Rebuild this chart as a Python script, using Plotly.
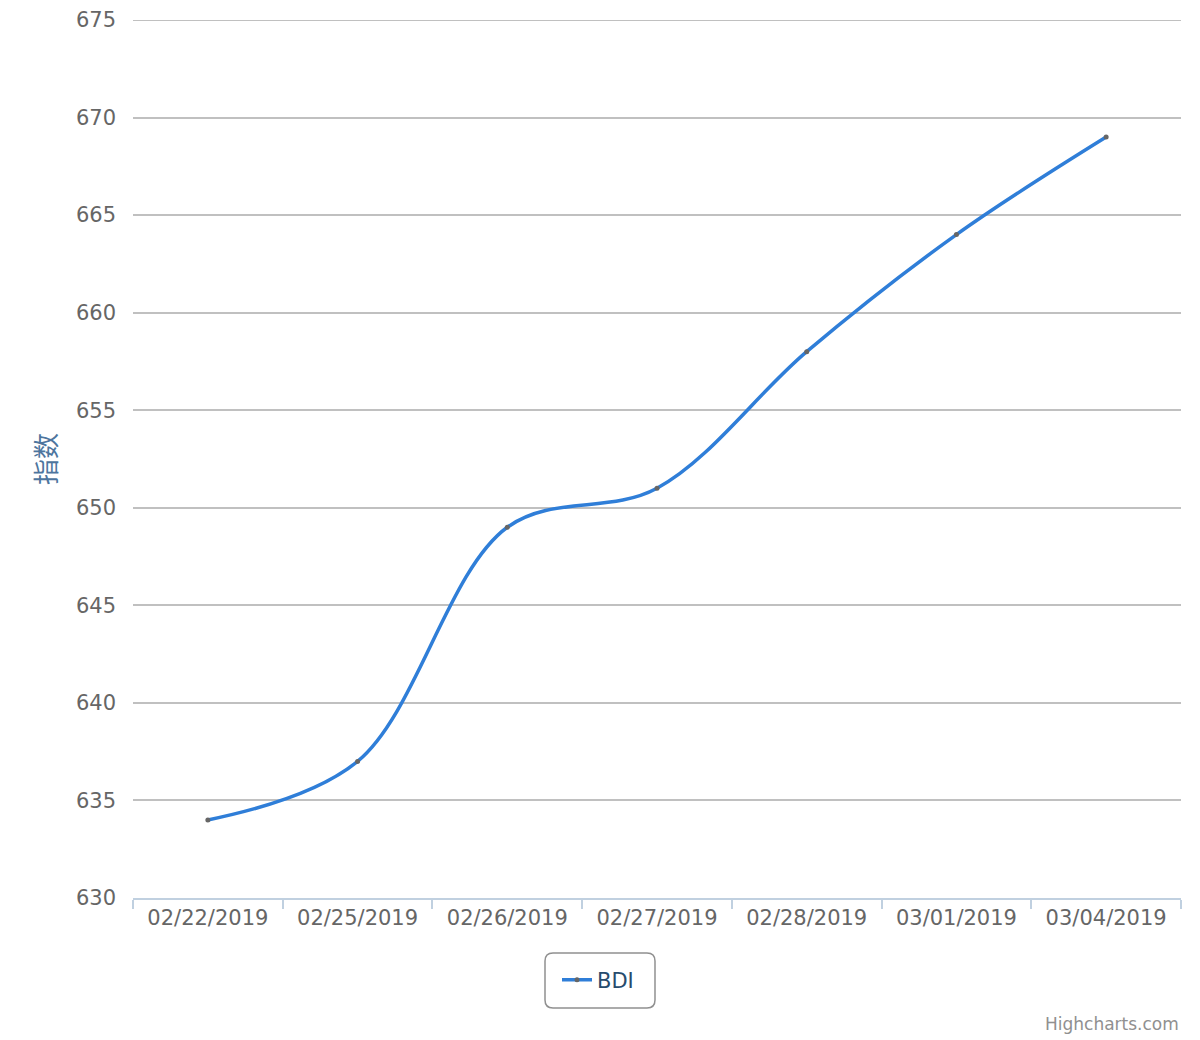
import plotly.graph_objects as go

categories = ["02/22/2019", "02/25/2019", "02/26/2019", "02/27/2019", "02/28/2019", "03/01/2019", "03/04/2019"]
bdi_values = [634, 637, 649, 651, 658, 664, 669]
series_name = "BDI"
y_title = "指数"
y_ticks = [630, 635, 640, 645, 650, 655, 660, 665, 670, 675]

# page has an 8px body margin; figure sized to fit the 1200x1040 viewport
OFF = 8
W, H = 1200 - OFF, 1040 - OFF
L, R, T, B = 133 - OFF, 19, 20 - OFF, 1040 - 898
PW, PH = W - L - R, H - T - B

def px_to_paper(x, y):
    # screen pixel -> paper coordinates
    return (x - OFF - L) / PW, (H - B - (y - OFF)) / PH

FONT = "DejaVu Sans, Verdana, sans-serif"

fig = go.Figure()
fig.add_trace(go.Scatter(
    x=categories, y=bdi_values, name=series_name,
    mode="lines+markers",
    line=dict(color="#2f7ed8", width=3.5, shape="spline", smoothing=1.0),
    marker=dict(size=5, color="#666666", line=dict(width=0)),
))

# top gridline (hidden by plotly at the range edge)
fig.add_shape(type="line", xref="paper", yref="y", x0=0, x1=1, y0=y_ticks[-1], y1=y_ticks[-1],
              line=dict(color="#C0C0C0", width=2), layer="below")

# rounded legend box
x0, y0, x1, y1, r = 545, 953, 655, 1008, 8
def P(x, y):
    a, b = px_to_paper(x, y)
    return f"{a:.5f},{b:.5f}"
path = (f"M {P(x0 + r, y0)} L {P(x1 - r, y0)} Q {P(x1, y0)} {P(x1, y0 + r)} "
        f"L {P(x1, y1 - r)} Q {P(x1, y1)} {P(x1 - r, y1)} L {P(x0 + r, y1)} "
        f"Q {P(x0, y1)} {P(x0, y1 - r)} L {P(x0, y0 + r)} Q {P(x0, y0)} {P(x0 + r, y0)} Z")
fig.add_shape(type="path", path=path, xref="paper", yref="paper",
              line=dict(color="#909090", width=1.5), fillcolor="rgba(0,0,0,0)")

fig.add_annotation(text="Highcharts.com", xref="paper", yref="paper",
                   x=px_to_paper(1181, 0)[0], y=px_to_paper(0, 1024)[1],
                   xanchor="right", yanchor="middle", showarrow=False,
                   font=dict(family=FONT, size=17, color="#909090"))

fig.update_layout(
    width=W, height=H,
    margin=dict(l=L, r=R, t=T, b=B, autoexpand=False),
    paper_bgcolor="white", plot_bgcolor="white",
    font=dict(family=FONT, color="#666666"),
    showlegend=True,
    legend=dict(
        xref="container", yref="container",
        x=(598 - OFF) / W, y=1 - (980 - OFF) / H, xanchor="center", yanchor="middle",
        orientation="h", bgcolor="rgba(0,0,0,0)",
        font=dict(family=FONT, size=21, color="#274b6d"),
        itemwidth=30,
    ),
    xaxis=dict(
        type="category", range=[-0.5, 6.5],
        showgrid=False, zeroline=False,
        showline=True, linecolor="#C0D0E0", linewidth=2,
        ticks="outside", tickson="boundaries", ticklen=9, tickwidth=2, tickcolor="#C0D0E0",
        tickfont=dict(family=FONT, size=21, color="#666666"),
    ),
    yaxis=dict(
        range=[630, 675], tickvals=y_ticks,
        showgrid=True, gridcolor="#C0C0C0", gridwidth=2,
        zeroline=False, showline=False, ticks="",
        ticklabelstandoff=16,
        tickfont=dict(family=FONT, size=21, color="#666666"),
        title=dict(text=y_title, standoff=11,
                   font=dict(family="Noto Sans CJK SC, sans-serif", size=26, color="#4d759e")),
    ),
)

fig.write_html("out.html")
